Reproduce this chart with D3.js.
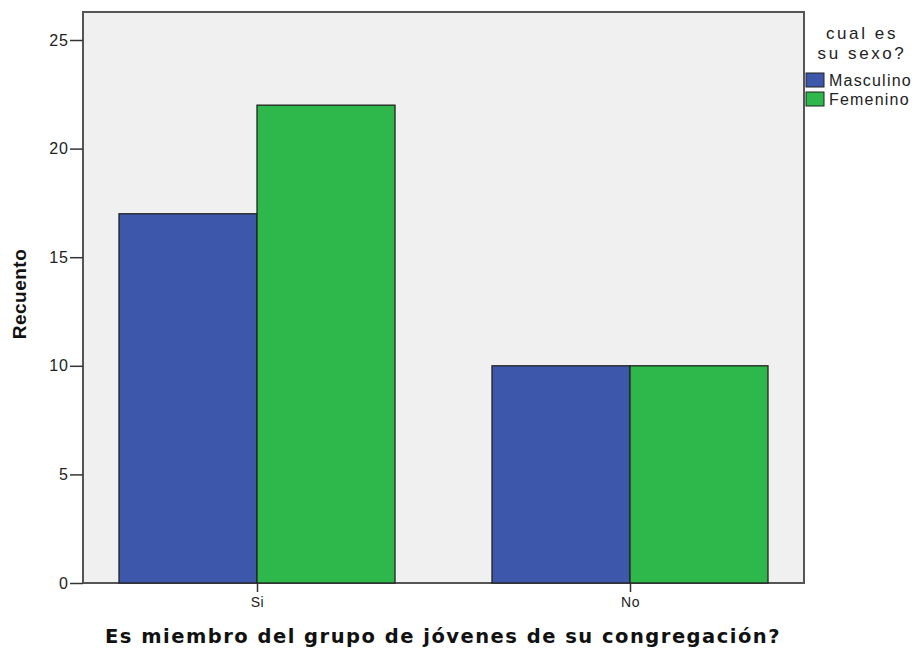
<!DOCTYPE html>
<html><head><meta charset="utf-8">
<script src="https://cdn.jsdelivr.net/npm/d3@7"></script>
<style>body{margin:0;background:#fff}svg{display:block}</style>
</head><body>
<svg id="c" width="917" height="650"></svg>
<script>
const categories = ["Si", "No"];
const seriesNames = ["Masculino", "Femenino"];
const masculino = [17, 10];
const femenino = [22, 10];
const yTicks = [0, 5, 10, 15, 20, 25];
const colors = ["#3d58ab", "#2eb84c"];

const FONT = "'Liberation Sans', Arial, sans-serif";
const svg = d3.select("#c");
const L = 83, R = 804, T = 12, B = 583;
const x = d3.scalePoint().domain(categories).range([L, R]).padding(0.4665);
const y = d3.scaleLinear().domain([0, 25]).range([B, 40]);
const bw = x.step() * 0.37;

svg.append("rect").attr("x", L).attr("y", T).attr("width", R - L).attr("height", B - T)
  .attr("fill", "#f0f0f0").attr("stroke", "#555").attr("stroke-width", 2);

const data = categories.map((c, i) => ({c, vals: [masculino[i], femenino[i]]}));
data.forEach(d => {
  d.vals.forEach((v, j) => {
    svg.append("rect")
      .attr("x", x(d.c) + (j - 1) * bw)
      .attr("y", y(v))
      .attr("width", bw)
      .attr("height", y(0) - y(v))
      .attr("fill", colors[j])
      .attr("stroke", "#222").attr("stroke-width", 1.3);
  });
});

// y axis
const ya = svg.append("g").attr("transform", `translate(${L},0)`)
  .call(d3.axisLeft(y).tickValues(yTicks).tickSize(13).tickPadding(1));
ya.select(".domain").remove();
ya.selectAll("line").attr("stroke", "#333").attr("stroke-width", 1.5);
ya.selectAll("text").attr("font-family", FONT).attr("font-size", 16)
  .attr("letter-spacing", 1).attr("fill", "#222");

// x axis
const xa = svg.append("g").attr("transform", `translate(0,${B})`)
  .call(d3.axisBottom(x).tickSize(9).tickPadding(5));
xa.select(".domain").remove();
xa.selectAll("line").attr("stroke", "#333").attr("stroke-width", 1.5);
xa.selectAll("text").attr("font-family", FONT).attr("font-size", 14)
  .attr("letter-spacing", 0.5).attr("fill", "#222");

// axis titles
svg.append("text").attr("transform", "translate(26,294) rotate(-90)")
  .attr("text-anchor", "middle").attr("font-family", FONT)
  .attr("font-weight", "bold").attr("font-size", 19).attr("letter-spacing", 0.5)
  .attr("fill", "#111").text("Recuento");
svg.append("text").attr("x", 443).attr("y", 643)
  .attr("text-anchor", "middle").attr("font-family", "'DejaVu Sans', sans-serif")
  .attr("font-weight", "bold").attr("font-size", 19.5).attr("letter-spacing", 1.5)
  .attr("fill", "#111")
  .text("Es miembro del grupo de jóvenes de su congregación?");

// legend
const lg = svg.append("g");
["cual es", "su sexo?"].forEach((t, i) => {
  lg.append("text").attr("x", 862).attr("y", 39 + i * 20).attr("text-anchor", "middle")
    .attr("font-family", FONT).attr("font-size", 17)
    .attr("letter-spacing", 2.6).attr("fill", "#222").text(t);
});
seriesNames.forEach((n, i) => {
  lg.append("rect").attr("x", 806).attr("y", 73 + i * 19).attr("width", 18).attr("height", 14)
    .attr("fill", colors[i]).attr("stroke", "#222").attr("stroke-width", 1);
  lg.append("text").attr("x", 829).attr("y", 86 + i * 19)
    .attr("font-family", FONT).attr("font-size", 16)
    .attr("letter-spacing", 1.2).attr("fill", "#222").text(n);
});
</script>
</body></html>
